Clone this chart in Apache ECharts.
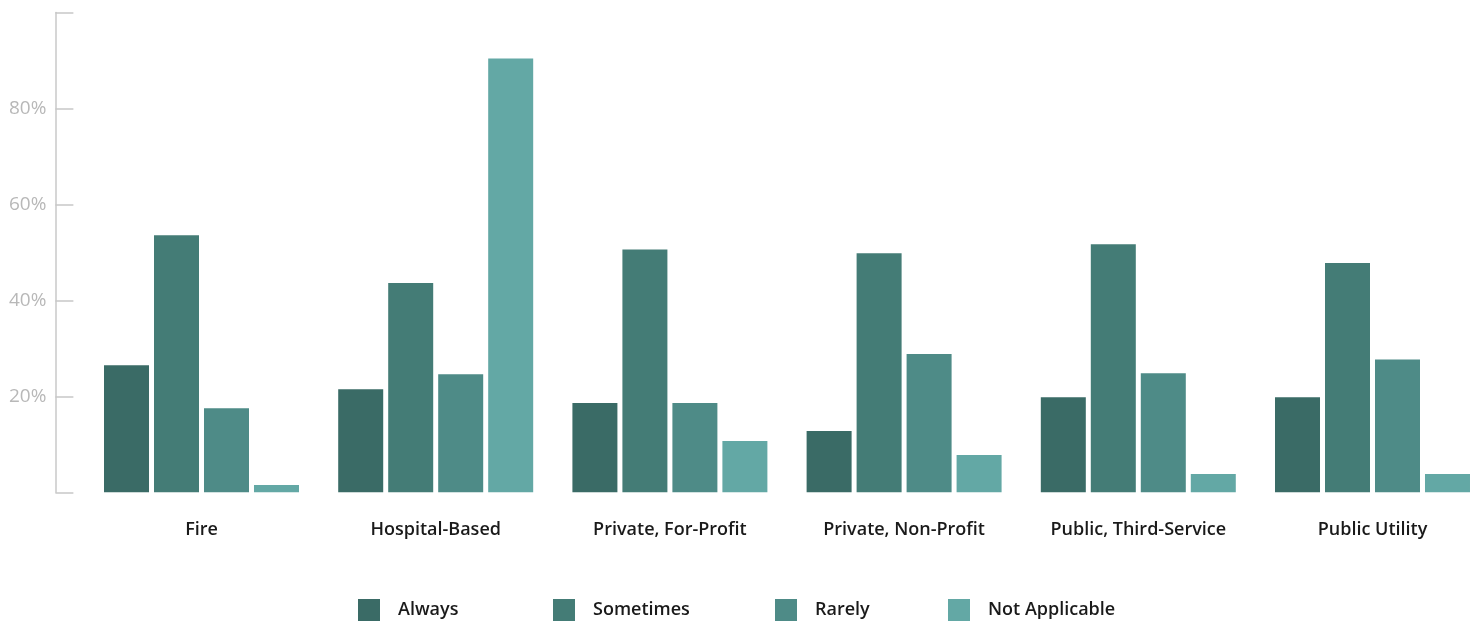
<!DOCTYPE html>
<html>
<head>
<meta charset="utf-8">
<script src="https://cdn.jsdelivr.net/npm/echarts@6/dist/echarts.min.js"></script>
<style>
html,body{margin:0;padding:0;background:#fff;}
#chart{width:1479px;height:622px;}
</style>
</head>
<body>
<div id="chart"></div>
<script>
const categories = ['Fire', 'Hospital-Based', 'Private, For-Profit', 'Private, Non-Profit', 'Public, Third-Service', 'Public Utility'];
const seriesNames = ['Always', 'Sometimes', 'Rarely', 'Not Applicable'];
const always = [26.5, 21.5, 18.6, 12.8, 19.8, 19.8];
const sometimes = [53.6, 43.6, 50.6, 49.8, 51.7, 47.8];
const rarely = [17.5, 24.6, 18.6, 28.8, 24.8, 27.7];
const notApplicable = [1.5, 90.4, 10.7, 7.8, 3.8, 3.8];
const colors = ['#3a6b66', '#447c76', '#4e8b87', '#63a8a5'];
const yTicks = [0, 20, 40, 60, 80, 100];
const legendLefts = [358, 553, 775, 948];

const chart = echarts.init(document.getElementById('chart'));
const values = [always, sometimes, rarely, notApplicable];
chart.setOption({
  animation: false,
  color: colors,
  textStyle: { fontFamily: 'Open Sans' },
  grid: { left: 84.4, width: 1405.2, top: 12.5, bottom: 129.7, containLabel: false, outerBoundsMode: 'none' },
  legend: seriesNames.map(function (n, i) {
    return {
      left: legendLefts[i],
      top: 599,
      padding: 0,
      itemWidth: 22,
      itemHeight: 22,
      icon: 'rect',
      data: [n],
      textStyle: { fontSize: 18, fontWeight: 600, color: '#1a1a1a', padding: [0, 0, 0, 13], fontFamily: 'Open Sans' }
    };
  }),
  xAxis: {
    type: 'category',
    data: categories,
    axisLine: { show: false },
    axisTick: { show: false },
    axisLabel: { margin: 29, fontSize: 18, fontWeight: 600, color: '#1a1a1a', fontFamily: 'Open Sans' }
  },
  yAxis: {
    type: 'value',
    min: yTicks[0],
    max: yTicks[yTicks.length - 1],
    interval: 20,
    offset: 29,
    splitLine: { show: false },
    axisLine: { show: true, lineStyle: { color: '#c8c8c8', width: 1.5 } },
    axisTick: { show: true, inside: true, length: 18, lineStyle: { color: '#c8c8c8', width: 1.5 } },
    axisLabel: {
      margin: 9,
      fontSize: 19,
      color: '#b8b8b8',
      fontFamily: 'Open Sans',
      formatter: function (v) { return (v === 0 || v === 100) ? '' : v + '%'; }
    }
  },
  series: seriesNames.map(function (name, i) {
    return {
      name: name,
      type: 'bar',
      data: values[i],
      barWidth: 45,
      barGap: '11.1%',
      itemStyle: { color: colors[i] }
    };
  })
});
</script>
</body>
</html>
